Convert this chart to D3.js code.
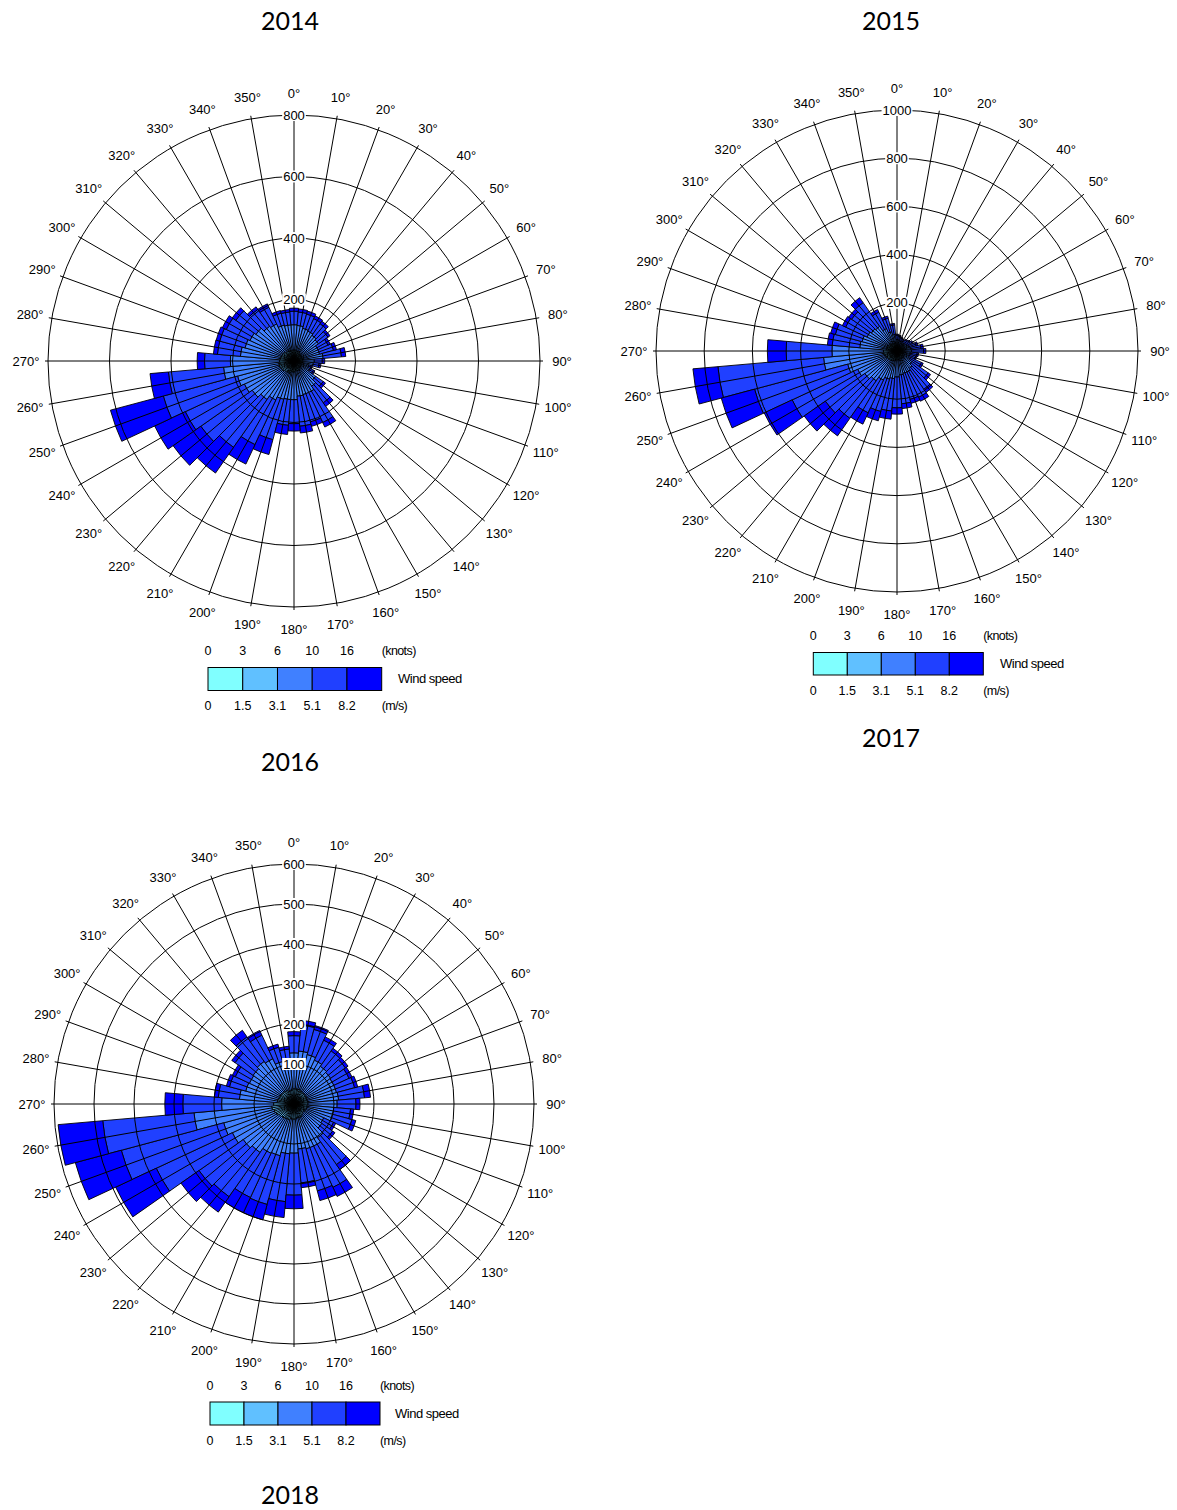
<!DOCTYPE html>
<html><head><meta charset="utf-8">
<script src="https://cdn.jsdelivr.net/npm/d3@7/dist/d3.min.js"></script>
<style>
body{margin:0;background:#fff;}
svg{display:block;font-family:"Liberation Sans",Arial,sans-serif;}
</style></head><body>
<svg id="c" width="1177" height="1510"></svg>
<script>
// ---------- categories ----------
const directions = [0,10,20,30,40,50,60,70,80,90,100,110,120,130,140,150,160,170,180,190,200,210,220,230,240,250,260,270,280,290,300,310,320,330,340,350];
const knotLabels = ["0","3","6","10","16"];
const msLabels = ["0","1.5","3.1","5.1","8.2"];
const speedKeys = ["k0_3","k3_6","k6_10","k10_16","k16p"];
const speedColors = ["#80ffff","#60c0ff","#4080ff","#2040ff","#0000ff"];

// ---------- 2014 (counts per direction, by speed class) ----------
const y2014_0_3   = [14,14,13,13,12,12,12,12,12,12,12,10,11,12,12,13,13,13,14,14,15,15,15,16,16,16,16,15,15,15,15,15,14,14,14,14];
const y2014_3_6   = [22,22,20,20,18,18,16,16,18,16,15,14,15,16,18,20,20,20,22,22,24,25,28,30,32,34,34,32,30,30,28,26,24,24,22,22];
const y2014_6_10  = [82,80,77,74,72,67,58,58,65,38,36,26,32,58,70,80,80,82,90,90,90,100,110,120,130,140,180,160,130,120,115,110,100,95,85,82];
const y2014_10_16 = [44,44,48,45,46,38,36,47,60,26,19,8,12,30,66,108,92,98,78,84,136,160,190,204,212,250,180,84,75,85,85,80,67,60,40,42];
const y2014_16p   = [10,10,10,10,10,8,8,10,14,8,6,4,5,9,14,16,15,22,24,30,50,70,102,110,110,178,60,24,13,12,14,14,10,12,9,8];
const rings2014 = [200,400,600,800];

// ---------- 2015 ----------
const y2015_0_3   = [12,12,11,11,11,11,12,12,12,12,12,12,12,13,13,14,14,14,14,15,15,15,16,16,16,16,16,16,15,15,14,14,14,14,13,13];
const y2015_3_6   = [14,14,13,12,13,13,14,15,16,16,15,15,16,18,20,22,22,22,24,25,26,28,30,32,34,36,40,40,30,30,28,26,26,24,20,18];
const y2015_6_10  = [22,20,18,16,18,20,22,25,30,32,28,26,34,45,55,60,60,64,70,75,80,90,105,115,130,160,250,214,110,105,95,90,85,65,50,38];
const y2015_10_16 = [18,16,15,13,15,17,22,30,42,50,29,27,50,82,106,116,112,120,128,135,139,150,190,200,300,400,440,190,115,115,98,100,120,75,58,40];
const y2015_16p   = [4,4,3,3,3,4,5,8,10,10,6,5,8,12,16,18,17,20,26,34,40,52,89,107,128,143,104,78,20,20,15,15,25,12,9,6];
const rings2015 = [200,400,600,800,1000];

// ---------- 2016 ----------
const y2016_0_3   = [14,14,14,14,13,13,13,13,13,13,13,13,12,12,13,14,14,14,14,14,15,15,15,15,16,16,16,15,14,14,14,14,14,14,13,13];
const y2016_3_6   = [24,24,24,22,22,22,22,22,22,22,20,20,18,18,20,22,22,22,24,24,26,26,28,30,34,36,40,36,28,26,26,26,26,24,22,22];
const y2016_6_10  = [90,95,90,85,80,77,75,75,77,73,67,67,52,55,70,80,80,77,85,87,93,95,105,110,120,130,195,130,95,85,83,85,90,87,75,71];
const y2016_10_16 = [43,65,65,55,47,45,42,47,65,47,42,50,27,33,82,114,109,85,105,120,126,122,135,135,210,265,229,97,53,42,39,55,75,65,37,32];
const y2016_16p   = [10,12,10,9,8,8,8,8,15,10,8,10,6,7,15,25,25,12,34,40,40,42,47,55,112,119,112,45,10,8,8,10,20,13,8,7];
const rings2016 = [100,200,300,400,500,600];

// ---------- captions ----------
const captions = ["2014","2015","2017","2016","2018"];

// ---------- layout (not data) ----------
const captionPos = [[290,20],[891,20],[891,737],[290,761],[290,1494]];
const charts = [
  {series:[y2014_0_3,y2014_3_6,y2014_6_10,y2014_10_16,y2014_16p], rings:rings2014,
   cx:294, cy:361, R:246, lg:{x0:208, x1:381.7, y:667.5, h:23, ky:651, my:706, wx:398, wy:678}},
  {series:[y2015_0_3,y2015_3_6,y2015_6_10,y2015_10_16,y2015_16p], rings:rings2015,
   cx:897, cy:351, R:241, lg:{x0:813.3, x1:983.3, y:652.5, h:22.5, ky:636, my:691, wx:1000, wy:663}},
  {series:[y2016_0_3,y2016_3_6,y2016_6_10,y2016_10_16,y2016_16p], rings:rings2016,
   cx:294, cy:1104, R:240, lg:{x0:210, x1:380, y:1402, h:23, ky:1386, my:1441, wx:395, wy:1413}}
];

const svg = d3.select("#c");
const rad = Math.PI/180;

function drawRose(cfg){
  const g = svg.append("g").attr("transform",`translate(${cfg.cx},${cfg.cy})`);
  const maxV = d3.max(cfg.rings);
  const r = d3.scaleLinear().domain([0,maxV]).range([0,cfg.R]);
  const table = directions.map((d,i)=>{const o={dir:d}; speedKeys.forEach((k,j)=>o[k]=cfg.series[j][i]); return o;});
  const stacked = d3.stack().keys(speedKeys)(table);
  const arc = d3.arc();
  const half = 5*rad;
  stacked.forEach((layer,j)=>{
    g.append("g").selectAll("path").data(layer).join("path")
      .attr("d", d=>arc({innerRadius:r(d[0]), outerRadius:r(d[1]),
                         startAngle:d.data.dir*rad-half, endAngle:d.data.dir*rad+half}))
      .attr("fill", speedColors[j]).attr("stroke","#000").attr("stroke-width",0.9)
      .attr("stroke-linejoin","miter");
  });
  // grid on top
  g.append("g").selectAll("circle").data(cfg.rings).join("circle")
    .attr("r", d=>r(d)).attr("fill","none").attr("stroke","#000").attr("stroke-width",1);
  g.append("g").selectAll("line").data(directions).join("line")
    .attr("x1",0).attr("y1",0)
    .attr("x2", d=>Math.sin(d*rad)*(cfg.R+3)).attr("y2", d=>-Math.cos(d*rad)*(cfg.R+3))
    .attr("stroke","#000").attr("stroke-width",1);
  // degree labels
  g.append("g").selectAll("text").data(directions).join("text")
    .attr("x", d=>Math.sin(d*rad)*(cfg.R+22)).attr("y", d=>-Math.cos(d*rad)*(cfg.R+22))
    .attr("text-anchor","middle").attr("dominant-baseline","central")
    .attr("font-size",13).text(d=>d+"°");
  // ring labels with white background
  const rl = g.append("g").selectAll("g").data(cfg.rings).join("g")
    .attr("transform", d=>`translate(0,${-r(d)})`);
  rl.each(function(d){
    const s = d3.select(this);
    const t = s.append("text").attr("text-anchor","middle").attr("dominant-baseline","central")
      .attr("font-size",13).text(d);
    const bb = t.node().getBBox();
    s.insert("rect","text").attr("x",bb.x-1).attr("y",-6).attr("width",bb.width+2).attr("height",12).attr("fill","#fff");
  });
  // legend
  const L = cfg.lg;
  const lx = d3.scaleLinear().domain([0,5]).range([L.x0,L.x1]);
  const lgG = svg.append("g");
  lgG.selectAll("rect").data(speedColors).join("rect")
    .attr("x",(d,i)=>lx(i)).attr("y",L.y).attr("width",(d,i)=>lx(i+1)-lx(i)).attr("height",L.h)
    .attr("fill",d=>d).attr("stroke","#000").attr("stroke-width",1);
  lgG.selectAll("text.k").data(knotLabels).join("text").attr("class","k")
    .attr("x",(d,i)=>lx(i)).attr("y",L.ky).attr("text-anchor","middle").attr("dominant-baseline","central")
    .attr("font-size",12.5).text(d=>d);
  lgG.selectAll("text.m").data(msLabels).join("text").attr("class","m")
    .attr("x",(d,i)=>lx(i)).attr("y",L.my).attr("text-anchor","middle").attr("dominant-baseline","central")
    .attr("font-size",12.5).text(d=>d);
  lgG.append("text").attr("x",L.x1).attr("y",L.ky).attr("dominant-baseline","central")
    .attr("font-size",12.5).attr("letter-spacing",-0.6).text("(knots)");
  lgG.append("text").attr("x",L.x1).attr("y",L.my).attr("dominant-baseline","central")
    .attr("font-size",12.5).attr("letter-spacing",-0.6).text("(m/s)");
  lgG.append("text").attr("x",L.wx).attr("y",L.wy).attr("dominant-baseline","central")
    .attr("font-size",13).attr("letter-spacing",-0.5).text("Wind speed");
}
charts.forEach(drawRose);

svg.append("g").selectAll("text").data(captions).join("text")
  .attr("x",(d,i)=>captionPos[i][0]).attr("y",(d,i)=>captionPos[i][1])
  .attr("text-anchor","middle").attr("dominant-baseline","central")
  .attr("font-family","Lato, 'Open Sans', sans-serif").attr("font-size",25).text(d=>d);
</script>
</body></html>
